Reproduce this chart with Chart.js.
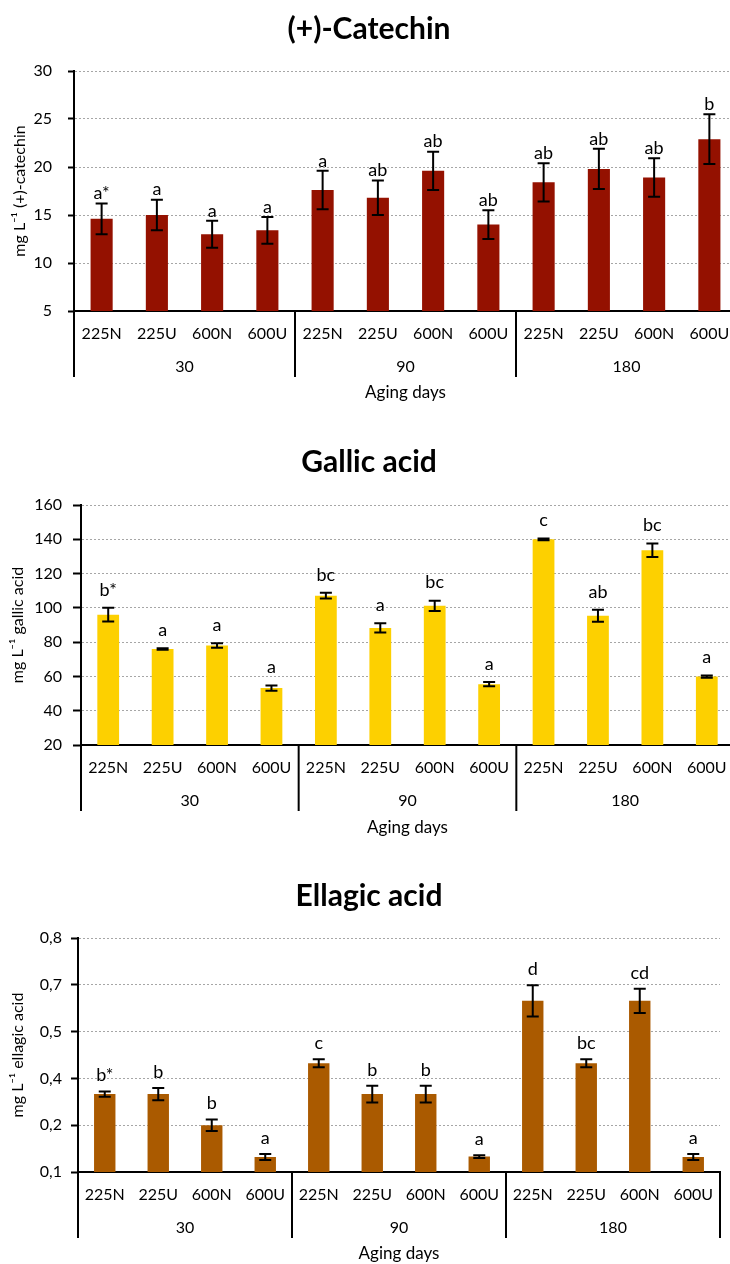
<!DOCTYPE html>
<html>
<head>
<meta charset="utf-8">
<script src="https://cdn.jsdelivr.net/npm/chart.js@4"></script>
<style>
  html, body { margin: 0; padding: 0; background: #fff; overflow: hidden; width: 730px; height: 1264px; }
  canvas { position: absolute; left: 0; }
</style>
</head>
<body>
<canvas id="c1" width="745" height="420" style="top:0px"></canvas>
<canvas id="c2" width="745" height="430" style="top:420px"></canvas>
<canvas id="c3" width="730" height="414" style="top:850px"></canvas>
<script>
// Treatments within each aging period, and the aging periods (days)
const treatments = ['225N', '225U', '600N', '600U'];
const agingDays = ['30', '90', '180'];

// (+)-Catechin, mg/L: mean, standard deviation, significance letters
const catechinMean = [14.6, 15.0, 13.0, 13.4, 17.6, 16.8, 19.6, 14.0, 18.4, 19.8, 18.9, 22.9];
const catechinErr  = [1.6, 1.6, 1.4, 1.4, 2.0, 1.8, 2.0, 1.5, 2.0, 2.1, 2.0, 2.6];
const catechinLetters = ['a*', 'a', 'a', 'a', 'a', 'ab', 'ab', 'ab', 'ab', 'ab', 'ab', 'b'];
const catechinTicks = ['5', '10', '15', '20', '25', '30'];

// Gallic acid, mg/L
const gallicMean = [96.0, 76.0, 78.0, 53.2, 107.1, 88.3, 101.2, 55.5, 140.0, 95.4, 133.6, 59.9];
const gallicErr  = [4.0, 0.5, 1.3, 1.5, 1.7, 2.7, 3.0, 1.2, 0.5, 3.5, 4.0, 0.6];
const gallicLetters = ['b*', 'a', 'a', 'a', 'bc', 'a', 'bc', 'a', 'c', 'ab', 'bc', 'a'];
const gallicTicks = ['20', '40', '60', '80', '100', '120', '140', '160'];

// Ellagic acid, mg/L
const ellagicMean = [0.333, 0.333, 0.240, 0.145, 0.425, 0.333, 0.333, 0.146, 0.612, 0.425, 0.612, 0.145];
const ellagicErr  = [0.008, 0.018, 0.017, 0.009, 0.012, 0.025, 0.025, 0.004, 0.047, 0.012, 0.036, 0.009];
const ellagicLetters = ['b*', 'b', 'b', 'a', 'c', 'b', 'b', 'a', 'd', 'bc', 'cd', 'a'];
const ellagicTicks = ['0,1', '0,2', '0,4', '0,5', '0,7', '0,8'];

const categoryLabels = agingDays.flatMap(() => treatments);

const FONT = 'Lato, "Open Sans", sans-serif';

// Error bars and significance letters above each bar
const errorBarPlugin = {
  id: 'errorBars',
  afterDatasetsDraw(chart, args, opts) {
    const ctx = chart.ctx;
    const y = chart.scales.y;
    const meta = chart.getDatasetMeta(0);
    ctx.save();
    ctx.strokeStyle = '#000';
    ctx.lineWidth = 2;
    meta.data.forEach((bar, i) => {
      const v = opts.mean[i], e = opts.err[i];
      const yt = y.getPixelForValue(v + e);
      const yb = y.getPixelForValue(v - e);
      const x = bar.x;
      ctx.beginPath();
      ctx.moveTo(x, yt); ctx.lineTo(x, yb);
      ctx.moveTo(x - 6, yt); ctx.lineTo(x + 6, yt);
      ctx.moveTo(x - 6, yb); ctx.lineTo(x + 6, yb);
      ctx.stroke();
      ctx.fillStyle = '#000';
      ctx.font = '18px ' + FONT;
      ctx.textAlign = 'center';
      ctx.textBaseline = 'middle';
      ctx.fillText(opts.letters[i], x, yt - opts.gap);
    });
    ctx.restore();
  }
};

// Chart title, aging-period group labels and separators under the axis
const groupAxisPlugin = {
  id: 'groupAxis',
  afterDraw(chart, args, opts) {
    const ctx = chart.ctx;
    const xs = chart.scales.x;
    const bottom = chart.chartArea.bottom;
    const px = i => xs.getPixelForValue(i);
    const n = treatments.length;
    const bounds = [xs.left];
    for (let g = 1; g < agingDays.length; g++) bounds.push((px(g * n - 1) + px(g * n)) / 2);
    bounds.push(xs.right);
    ctx.save();
    ctx.strokeStyle = '#000';
    ctx.lineWidth = 2;
    bounds.forEach(b => {
      ctx.beginPath();
      ctx.moveTo(b, bottom);
      ctx.lineTo(b, bottom + 66);
      ctx.stroke();
    });
    ctx.fillStyle = '#000';
    ctx.font = '16px ' + FONT;
    ctx.textAlign = 'center';
    ctx.textBaseline = 'middle';
    agingDays.forEach((d, g) => {
      const cx = (px(g * n) + px(g * n + n - 1)) / 2;
      ctx.fillText(d, cx, bottom + 56);
    });
    ctx.font = 'bold 30px ' + FONT;
    ctx.fillText(opts.title, 369, opts.titleY);
    ctx.restore();
  }
};

function makeChart(id, s) {
  return new Chart(document.getElementById(id), {
    type: 'bar',
    data: {
      labels: categoryLabels,
      datasets: [{
        data: s.mean,
        backgroundColor: s.color,
        barPercentage: 0.4,
        categoryPercentage: 1.0
      }]
    },
    options: {
      responsive: false,
      animation: false,
      devicePixelRatio: 1,
      layout: { padding: { top: s.top, right: s.right, left: 0, bottom: 0 } },
      plugins: {
        legend: { display: false },
        tooltip: { enabled: false },
        errorBars: { mean: s.mean, err: s.err, letters: s.letters, gap: s.gap },
        groupAxis: { title: s.title, titleY: s.titleY }
      },
      scales: {
        x: {
          grid: { display: false, drawTicks: false },
          border: { display: true, color: '#000', width: 2 },
          ticks: { color: '#000', font: { family: FONT, size: 16 }, padding: 13, autoSkip: false, maxRotation: 0 },
          title: { display: true, text: 'Aging days', color: '#000', font: { family: FONT, size: 17 }, padding: { top: 0, bottom: s.xTitlePad } },
          afterFit(scale) { scale.height = s.xHeight; }
        },
        y: {
          min: s.min, max: s.max,
          ticks: {
            stepSize: s.step,
            color: '#000',
            font: { family: FONT, size: 16 },
            padding: s.tickPad,
            callback: (v, i) => s.ticks[i]
          },
          grid: { color: '#a6a6a6', lineWidth: 1, drawTicks: true, tickLength: s.tickLen, tickColor: '#000', tickWidth: 2, tickBorderDash: [] },
          border: { display: true, color: '#000', width: 2, dash: [2, 2] },
          title: { display: true, text: s.yTitle, color: '#000', font: { family: FONT, size: 16 }, padding: { top: s.yTitlePad, bottom: 0 } },
          afterFit(scale) { scale.width = s.yWidth; }
        }
      }
    },
    plugins: [errorBarPlugin, groupAxisPlugin]
  });
}

makeChart('c1', {
  title: '(+)-Catechin', titleY: 29,
  mean: catechinMean, err: catechinErr, letters: catechinLetters, ticks: catechinTicks,
  color: '#941100', min: 5, max: 30, step: 5,
  top: 71, right: 8, xHeight: 109, xTitlePad: 17,
  yWidth: 74, tickPad: 16, tickLen: 6, yTitlePad: 10, gap: 10,
  yTitle: 'mg L\u207B\u00B9 (+)-catechin'
});

makeChart('c2', {
  title: 'Gallic acid', titleY: 42,
  mean: gallicMean, err: gallicErr, letters: gallicLetters, ticks: gallicTicks,
  color: '#FDD000', min: 20, max: 160, step: 20,
  top: 85, right: 11, xHeight: 105, xTitlePad: 12,
  yWidth: 81, tickPad: 11, tickLen: 8, yTitlePad: 8, gap: 18,
  yTitle: 'mg L\u207B\u00B9 gallic acid'
});

makeChart('c3', {
  title: 'Ellagic acid', titleY: 46,
  mean: ellagicMean, err: ellagicErr, letters: ellagicLetters, ticks: ellagicTicks,
  color: '#AA5A00', min: 0.1, max: 0.8, step: 0.14,
  top: 88, right: 10, xHeight: 92, xTitlePad: 0,
  yWidth: 78, tickPad: 9, tickLen: 7, yTitlePad: 8, gap: 16,
  yTitle: 'mg L\u207B\u00B9 ellagic acid'
});
</script>
</body>
</html>
